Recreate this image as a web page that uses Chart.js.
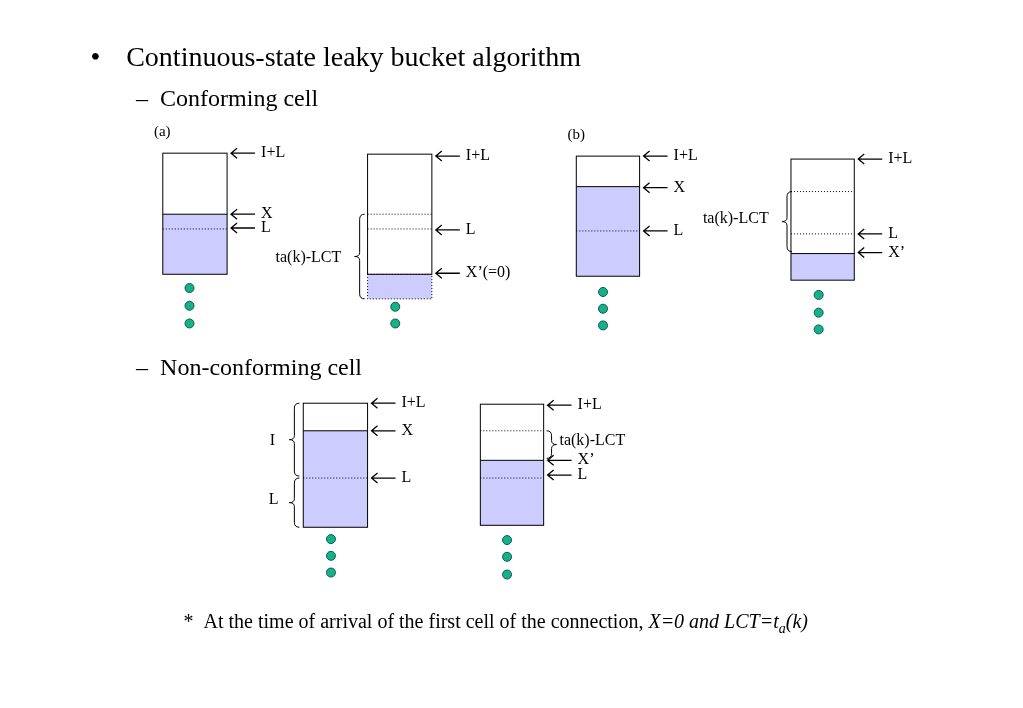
<!DOCTYPE html>
<html><head><meta charset="utf-8">
<script src="https://cdn.jsdelivr.net/npm/chart.js@4/dist/chart.umd.min.js"></script>
<style>html,body{margin:0;background:#fff}#wrap{width:1023px;height:708px}</style>
</head><body><div id="wrap"><canvas id="c"></canvas></div>
<script>
// buckets: [left, right, top, bottom, fillTop, fillBottom]
const buckets = [
  [159, 224, 150, 273, 212, 273],
  [366, 431, 151, 273, 273, 298],
  [577, 641, 153, 275, 184, 275],
  [794, 858, 156, 279, 252, 279],
  [301, 366, 404, 530, 432, 530],
  [480, 544, 405, 528, 462, 528]
];
// dotted level lines per bucket
const levelLines = [[227], [212, 227], [229], [189, 232], [480], [432, 480]];
// arrows: [x, y, label]
const arrows = [
  [228, 150, 'I+L'], [228, 212, 'X'], [228, 226, 'L'],
  [435, 153, 'I+L'], [435, 228, 'L'], [435, 272, 'X\u2019(=0)'],
  [645, 153, 'I+L'], [645, 185, 'X'], [645, 229, 'L'],
  [862, 156, 'I+L'], [862, 232, 'L'], [862, 251, 'X\u2019'],
  [370, 404, 'I+L'], [370, 432, 'X'], [370, 480, 'L'],
  [548, 406, 'I+L'], [548, 462, 'X\u2019'], [548, 477, 'L']
];
// braces: [x, top, bottom, side(1 opens right), label, labelX, labelY]
const braces = [
  [358, 212, 298, 1, 'ta(k)-LCT', 273, 255],
  [790, 189, 250, 1, 'ta(k)-LCT', 705, 216],
  [292, 404, 478, 1, 'I', 267, 441],
  [292, 480, 530, 1, 'L', 266, 501],
  [552, 432, 460, -1, 'ta(k)-LCT', 560, 441]
];
const dotX = [186, 186, 186, 394, 394, 394, 604, 604, 604, 822, 822, 822, 329, 329, 329, 507, 507, 507];
const dotY = [287, 305, 323, 289, 306, 323, 291, 308, 325, 294, 312, 329, 542, 559, 576, 543, 560, 578];

const diagram = {
  id: 'diagram',
  afterDatasetsDraw(chart) {
    const ctx = chart.ctx, xs = chart.scales.x, ys = chart.scales.y;
    const X = v => xs.getPixelForValue(v), Y = v => ys.getPixelForValue(v);
    ctx.save();
    ctx.fillStyle = '#000';
    ctx.textBaseline = 'alphabetic';
    ctx.font = '28px "Liberation Serif"';
    ctx.fillText('\u2022', X(86), Y(61));
    ctx.fillText('Continuous-state leaky bucket algorithm', X(122), Y(61));
    ctx.font = '24px "Liberation Serif"';
    ctx.fillText('\u2013  Conforming cell', X(132), Y(102));
    ctx.fillText('\u2013  Non-conforming cell', X(132), Y(375));
    ctx.font = '15px "Liberation Serif"';
    ctx.fillText('(a)', X(150), Y(133));
    ctx.fillText('(b)', X(568), Y(136));

    buckets.forEach((b, i) => {
      ctx.fillStyle = '#ccccff';
      ctx.fillRect(X(b[0]), Y(b[4]), X(b[1]) - X(b[0]), Y(b[5]) - Y(b[4]));
      ctx.strokeStyle = '#000'; ctx.lineWidth = 1;
      ctx.setLineDash([]);
      ctx.strokeRect(X(b[0]), Y(b[2]), X(b[1]) - X(b[0]), Y(b[3]) - Y(b[2]));
      if (b[5] > b[3]) {
        ctx.setLineDash([1, 2]);
        ctx.strokeRect(X(b[0]), Y(b[4]), X(b[1]) - X(b[0]), Y(b[5]) - Y(b[4]));
      } else if (b[4] > b[2]) {
        ctx.beginPath(); ctx.moveTo(X(b[0]), Y(b[4])); ctx.lineTo(X(b[1]), Y(b[4])); ctx.stroke();
      }
      ctx.setLineDash([1, 2]);
      levelLines[i].forEach(l => {
        ctx.beginPath(); ctx.moveTo(X(b[0]), Y(l)); ctx.lineTo(X(b[1]), Y(l)); ctx.stroke();
      });
    });
    ctx.setLineDash([]);
    ctx.font = '16px "Liberation Serif"';
    arrows.forEach(a => {
      const x = X(a[0]), y = Y(a[1]);
      ctx.strokeStyle = '#000'; ctx.lineWidth = 1.3;
      ctx.beginPath();
      ctx.moveTo(x + 24, y); ctx.lineTo(x, y);
      ctx.moveTo(x + 6, y - 5); ctx.lineTo(x, y); ctx.lineTo(x + 6, y + 5);
      ctx.stroke();
      ctx.fillStyle = '#000';
      ctx.fillText(a[2], x + 30, y + 4);
    });
    braces.forEach(b => {
      const x = X(b[0]), t = Y(b[1]), bt = Y(b[2]), m = (t + bt) / 2, s = b[3], w = 5;
      ctx.lineWidth = 1;
      ctx.beginPath();
      ctx.moveTo(x + s * w, t);
      ctx.quadraticCurveTo(x, t, x, t + 5);
      ctx.lineTo(x, m - 4);
      ctx.quadraticCurveTo(x, m, x - s * w, m);
      ctx.quadraticCurveTo(x, m, x, m + 4);
      ctx.lineTo(x, bt - 5);
      ctx.quadraticCurveTo(x, bt, x + s * w, bt);
      ctx.stroke();
      ctx.fillText(b[4], X(b[5]), Y(b[6]) + 5);
    });
    ctx.font = '20px "Liberation Serif"';
    let tx = X(180), ty = Y(632);
    const t1 = '*  At the time of arrival of the first cell of the connection, ';
    ctx.fillText(t1, tx, ty); tx += ctx.measureText(t1).width;
    ctx.font = 'italic 20px "Liberation Serif"';
    ctx.fillText('X=0 and LCT=t', tx, ty); tx += ctx.measureText('X=0 and LCT=t').width;
    ctx.font = 'italic 14px "Liberation Serif"';
    ctx.fillText('a', tx, ty + 5); tx += ctx.measureText('a').width;
    ctx.font = 'italic 20px "Liberation Serif"';
    ctx.fillText('(k)', tx, ty);
    ctx.restore();
  }
};

new Chart(document.getElementById('c'), {
  type: 'scatter',
  data: {
    datasets: [{
      data: dotX.map((x, i) => ({ x: x, y: dotY[i] })),
      backgroundColor: '#17b08c',
      borderColor: '#0b5e4a',
      borderWidth: 1,
      pointRadius: 4.5
    }]
  },
  options: {
    responsive: true,
    maintainAspectRatio: false,
    animation: false,
    layout: { padding: 0 },
    plugins: { legend: { display: false }, tooltip: { enabled: false } },
    scales: {
      x: { type: 'linear', min: 0, max: 1023, display: false },
      y: { type: 'linear', min: 0, max: 708, reverse: true, display: false }
    }
  },
  plugins: [diagram]
});
</script>
</body></html>
